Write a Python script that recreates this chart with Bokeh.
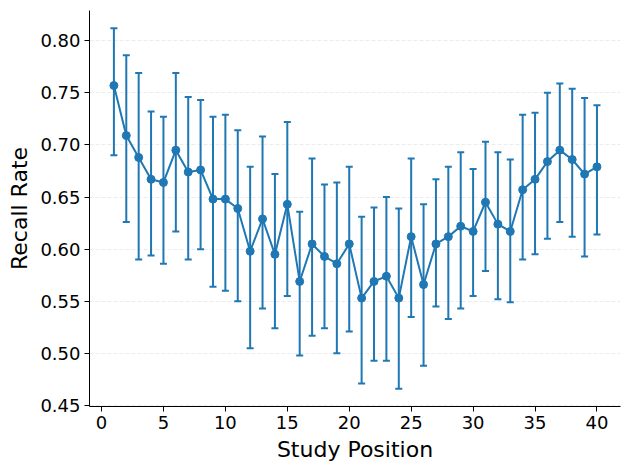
from bokeh.plotting import figure
from bokeh.models import ColumnDataSource, Whisker, TeeHead, FixedTicker, Range1d, NumeralTickFormatter
from bokeh.embed import file_html
from bokeh.resources import INLINE

positions = list(range(1, 41))
recall = [0.757, 0.709, 0.688, 0.667, 0.664, 0.695, 0.674, 0.676, 0.648, 0.648,
          0.639, 0.598, 0.629, 0.595, 0.643, 0.569, 0.605, 0.593, 0.586, 0.605,
          0.553, 0.569, 0.574, 0.553, 0.612, 0.566, 0.605, 0.612, 0.622, 0.617,
          0.645, 0.624, 0.617, 0.657, 0.667, 0.684, 0.695, 0.686, 0.672, 0.679]
upper = [0.812, 0.786, 0.769, 0.732, 0.727, 0.769, 0.746, 0.743, 0.727, 0.729,
         0.714, 0.679, 0.708, 0.672, 0.722, 0.636, 0.687, 0.662, 0.664, 0.679,
         0.631, 0.640, 0.650, 0.639, 0.687, 0.643, 0.667, 0.679, 0.693, 0.677,
         0.703, 0.693, 0.686, 0.729, 0.731, 0.750, 0.759, 0.754, 0.745, 0.738]
lower = [0.690, 0.626, 0.590, 0.594, 0.586, 0.617, 0.590, 0.600, 0.564, 0.560,
         0.550, 0.505, 0.543, 0.524, 0.555, 0.498, 0.517, 0.524, 0.500, 0.521,
         0.471, 0.493, 0.493, 0.466, 0.535, 0.488, 0.545, 0.533, 0.543, 0.555,
         0.579, 0.552, 0.549, 0.590, 0.595, 0.610, 0.626, 0.612, 0.593, 0.614]
x_ticks = [0, 5, 10, 15, 20, 25, 30, 35, 40]
y_ticks = [0.45, 0.50, 0.55, 0.60, 0.65, 0.70, 0.75, 0.80]

color = "#1f77b4"
src = ColumnDataSource(dict(x=positions, y=recall, upper=upper, lower=lower))

p = figure(width=630, height=470, output_backend="svg", toolbar_location=None,
           x_range=Range1d(-0.97, 41.9), y_range=Range1d(0.449, 0.829),
           min_border_left=89, min_border_right=10, min_border_top=10, min_border_bottom=64)

p.add_layout(Whisker(base="x", upper="upper", lower="lower", source=src,
                     line_color=color, line_width=2,
                     upper_head=TeeHead(size=7, line_color=color, line_width=2),
                     lower_head=TeeHead(size=7, line_color=color, line_width=2)))
p.line("x", "y", source=src, line_color=color, line_width=2)
p.scatter("x", "y", source=src, size=8, fill_color=color, line_color=color)

p.outline_line_color = None
p.xgrid.visible = False
p.ygrid.grid_line_color = "#b0b0b0"
p.ygrid.grid_line_alpha = 0.3
p.ygrid.grid_line_dash = "4 2"
p.ygrid.grid_line_width = 0.8

for ax in (p.xaxis, p.yaxis):
    ax.major_label_text_font = "DejaVu Sans"
    ax.major_label_text_font_size = "18px"
    ax.major_label_text_color = "black"
    ax.axis_label_text_font = "DejaVu Sans"
    ax.axis_label_text_font_size = "22px"
    ax.axis_label_text_font_style = "normal"
    ax.axis_label_text_color = "black"
    ax.axis_line_color = "black"
    ax.major_tick_line_color = "black"
    ax.major_tick_out = 5
    ax.major_tick_in = 0
    ax.minor_tick_line_color = None

p.xaxis.ticker = FixedTicker(ticks=x_ticks)
p.yaxis.ticker = FixedTicker(ticks=y_ticks)
p.yaxis.formatter = NumeralTickFormatter(format="0.00")
p.xaxis.axis_label = "Study Position"
p.yaxis.axis_label = "Recall Rate"
p.xaxis.major_label_standoff = 4
p.yaxis.major_label_standoff = 4

open("out.html", "w").write(file_html(p, INLINE))
